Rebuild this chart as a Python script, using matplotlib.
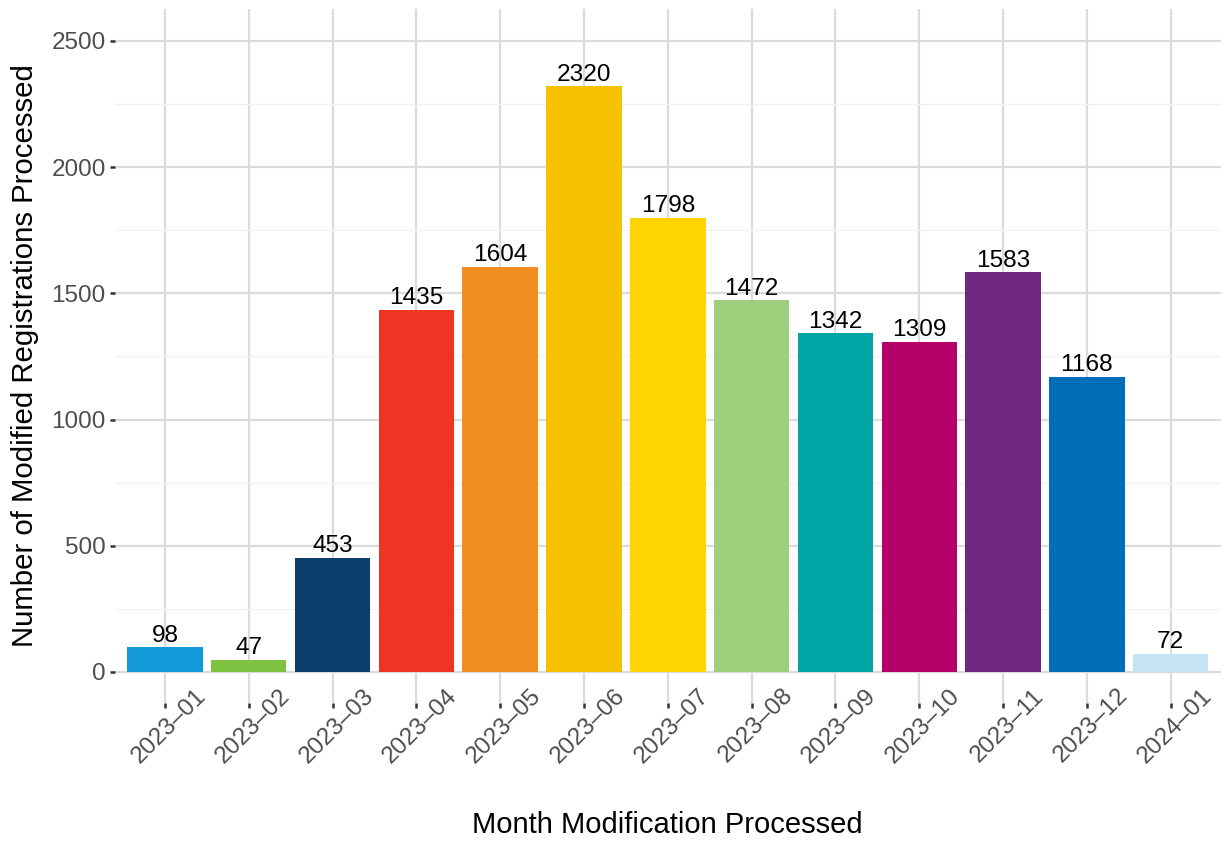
import matplotlib
matplotlib.use("Agg")
import matplotlib.pyplot as plt
import matplotlib.transforms as mtransforms
import numpy as np
from matplotlib.ticker import MultipleLocator

plt.rcParams['font.family'] = ['Liberation Sans', 'DejaVu Sans']

# data
months = ['2023–01', '2023–02', '2023–03', '2023–04', '2023–05', '2023–06', '2023–07',
          '2023–08', '2023–09', '2023–10', '2023–11', '2023–12', '2024–01']
counts = [98, 47, 453, 1435, 1604, 2320, 1798, 1472, 1342, 1309, 1583, 1168, 72]
colors = ['#1199D8', '#7FC241', '#0C3C6B', '#EE3524', '#F28E1F', '#F6C100', '#FED500',
          '#9ECF7D', '#00A6A5', '#B6006A', '#6F2780', '#006EB8', '#C4E4F6']

fig = plt.figure(figsize=(12.25, 8.41), dpi=100)
ax = fig.add_axes([0.0936, 0.1635, 0.9031, 0.8253])

x = np.arange(len(months))
bars = ax.bar(x, counts, width=0.9, color=colors, zorder=3)
for xi, v in zip(x, counts):
    ax.annotate(str(v), (xi, v), xytext=(0, 0.5), textcoords='offset points',
                ha='center', va='bottom', fontsize=17.6, color='black', zorder=4)

ax.set_xlim(-0.6, len(months) - 0.4)
ax.set_ylim(-125, 2625)
ax.set_xticks(x)
ax.set_xticklabels(months, rotation=45, ha='center', va='center', rotation_mode='anchor')
ax.yaxis.set_major_locator(MultipleLocator(500))
ax.yaxis.set_minor_locator(MultipleLocator(250))

for s in ax.spines.values():
    s.set_visible(False)

ax.grid(which='major', color='#DBDBDB', linewidth=1.6, zorder=0)
ax.grid(which='minor', axis='y', color='#F1F1F1', linewidth=1.0, zorder=0)
ax.tick_params(axis='both', which='major', length=3.5, width=1.8, color='#333333',
               labelcolor='#4D4D4D', labelsize=17.5, pad=3)
ax.tick_params(axis='x', which='major', pad=12.5)
ax.tick_params(axis='y', which='minor', length=0)
ax.set_axisbelow(True)

shift = mtransforms.ScaledTranslation(0.04, 0, fig.dpi_scale_trans)
for lbl in ax.get_xticklabels():
    lbl.set_transform(lbl.get_transform() + shift)

fig.text(667 / 1225, 1 - 825 / 841, 'Month Modification Processed', fontsize=21,
         color='black', ha='center', va='center')
fig.text(25 / 1225, 1 - 356 / 841, 'Number of Modified Registrations Processed',
         fontsize=21.2, color='black', ha='center', va='center', rotation=90)

fig.savefig('out.png', dpi=100, facecolor='white')
